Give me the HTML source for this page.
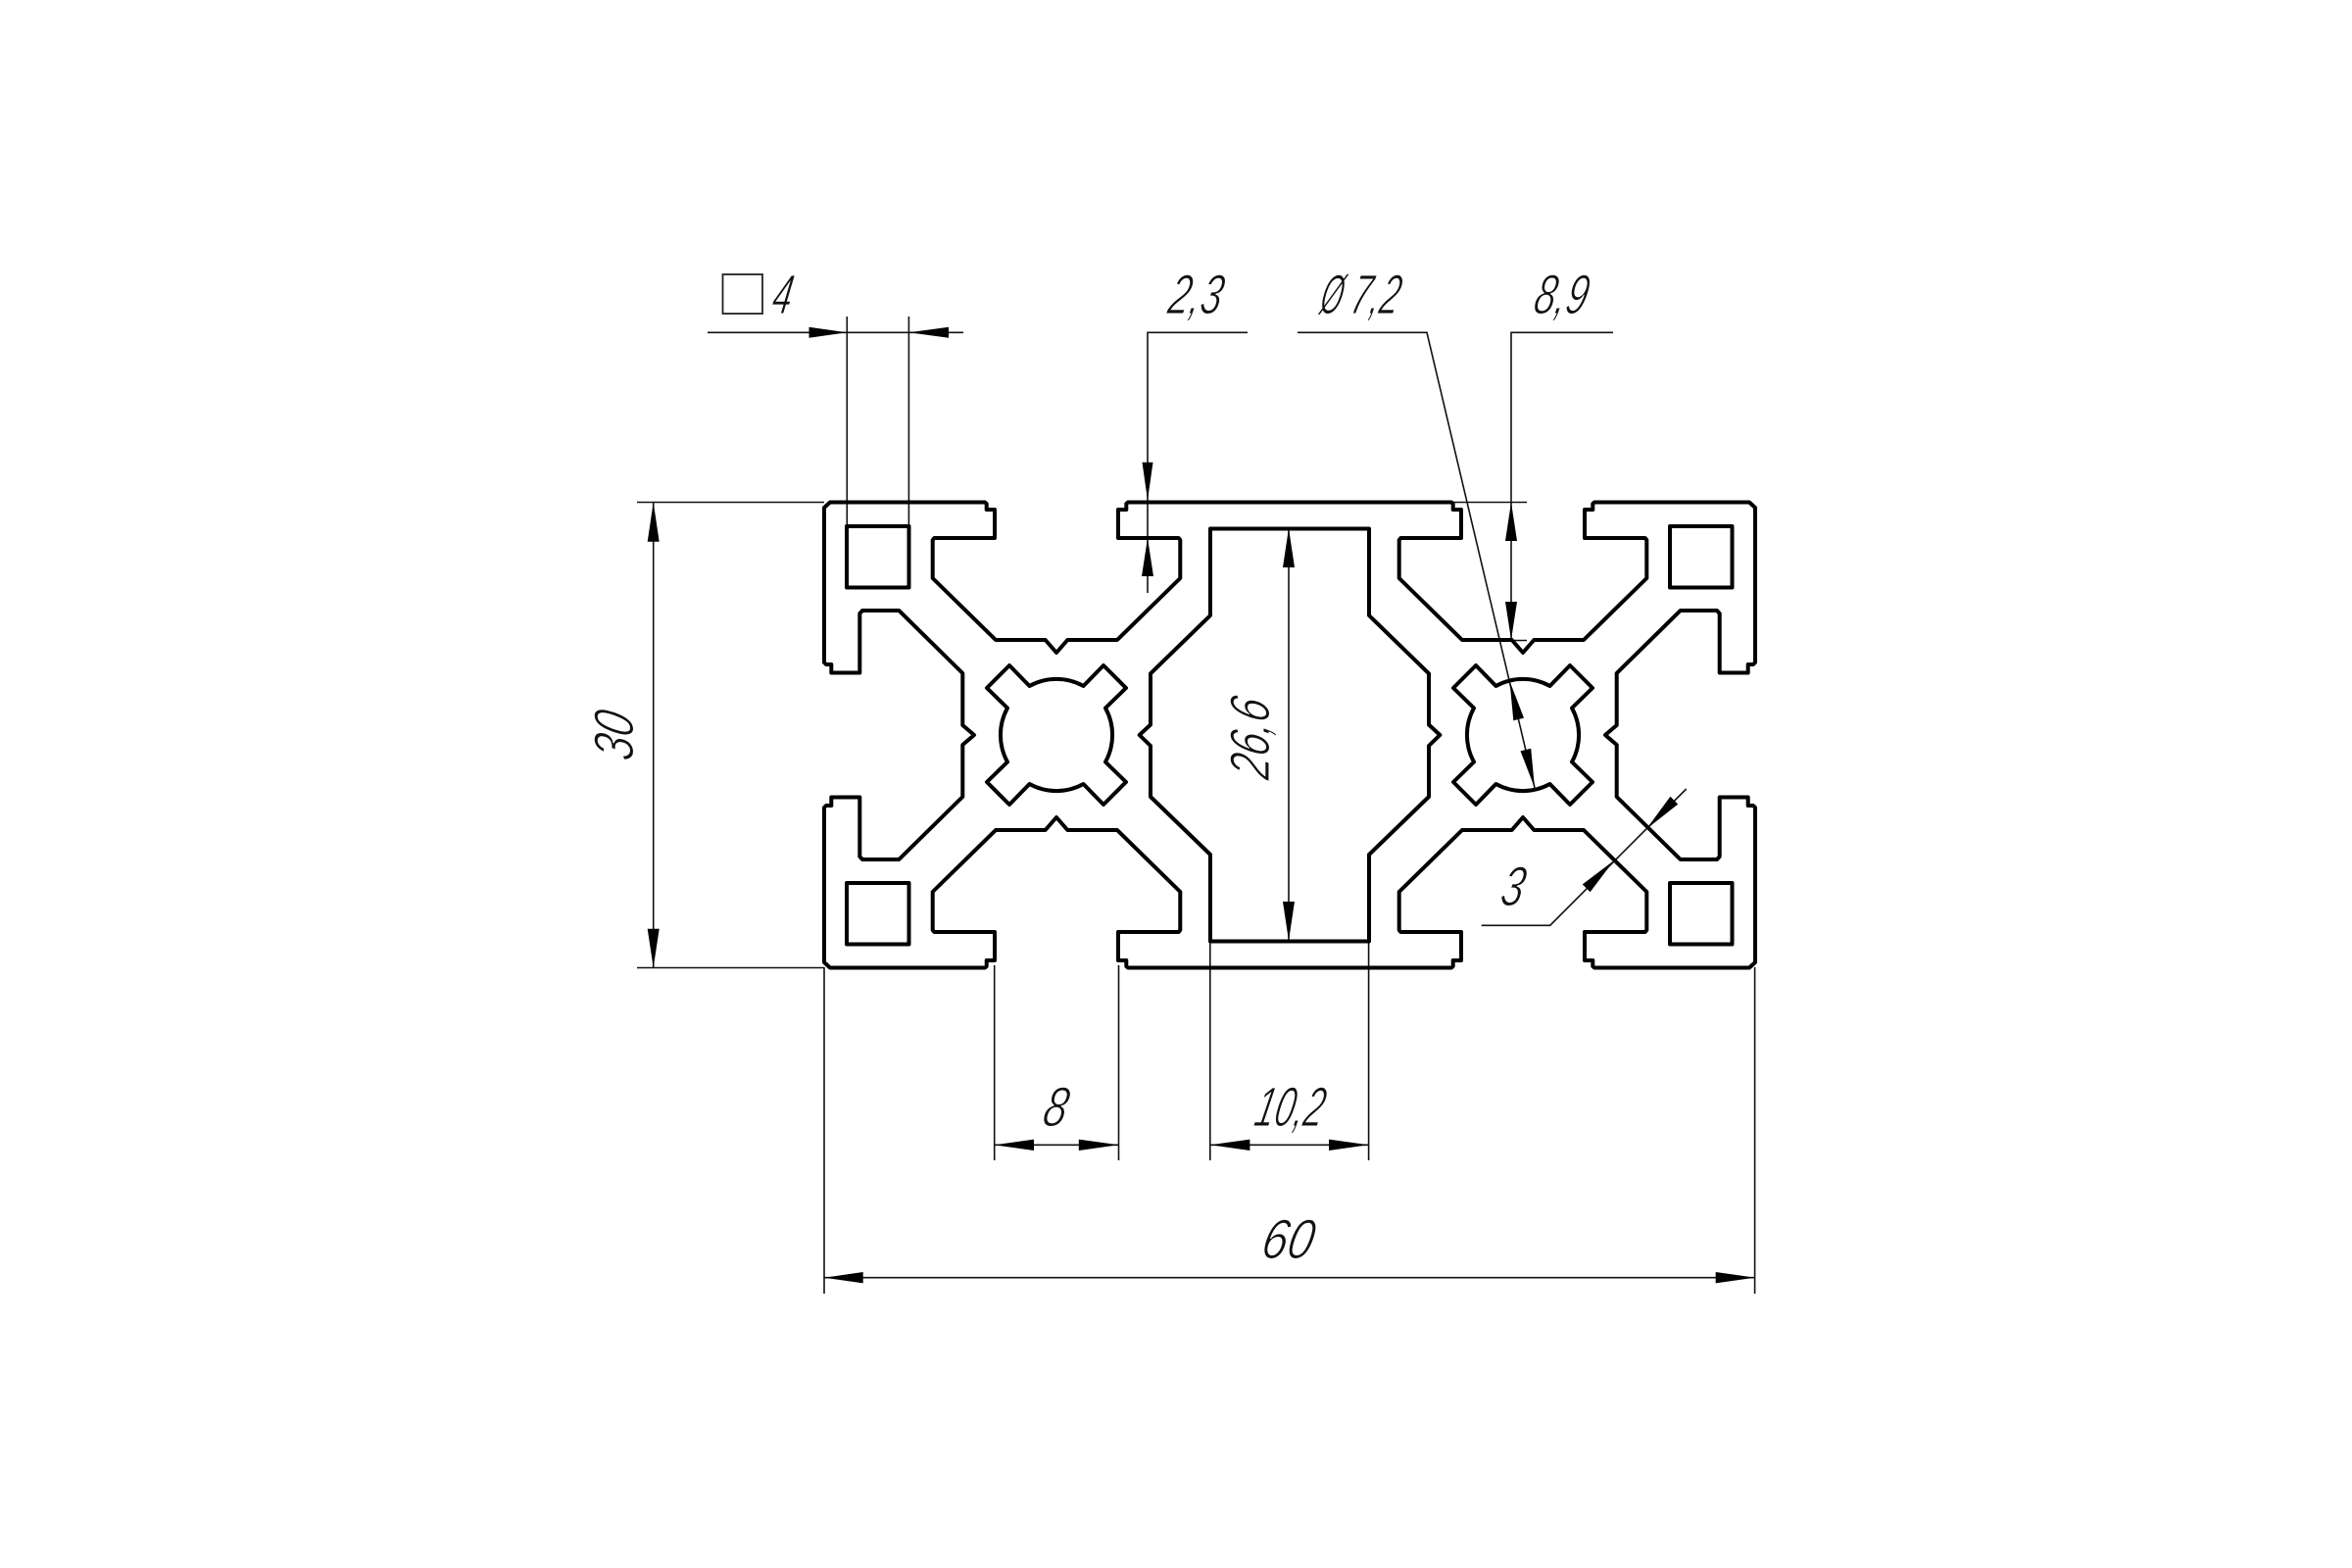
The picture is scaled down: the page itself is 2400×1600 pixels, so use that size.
<!DOCTYPE html>
<html><head><meta charset="utf-8"><style>
html,body{margin:0;padding:0;background:#fff;width:2400px;height:1600px;overflow:hidden}
svg{display:block}
.t{font-family:"Liberation Sans",sans-serif;font-style:italic;font-size:57px;fill:#111;stroke:#fff;stroke-width:1.1px}
.d{stroke:#111;stroke-width:1.6;fill:none}
.a{fill:#000;stroke:none}
.p{stroke:#000;stroke-width:4;fill:none;stroke-linejoin:round}
</style></head><body>
<svg width="2400" height="1600" viewBox="0 0 2400 1600" xmlns="http://www.w3.org/2000/svg">
<rect width="2400" height="1600" fill="#fff"/>
<!-- text -->
<text class="t" transform="translate(786,320) skewX(-10) scale(.62,1)">4</text>
<text class="t" transform="translate(1190,320) skewX(-12) scale(.68,1)">2,3</text>
<text class="t" transform="translate(1345,320) skewX(-12) scale(.5,1)">Ø</text>
<text class="t" transform="translate(1376,320) skewX(-12) scale(.62,1)">7,2</text>
<text class="t" transform="translate(1563,320) skewX(-12) scale(.68,1)">8,9</text>
<text class="t" transform="translate(1062,1149) skewX(-12) scale(.75,1)">8</text>
<text class="t" transform="translate(1278,1149) skewX(-12) scale(.63,1)">10,2</text>
<text class="t" transform="translate(1285,1284) skewX(-12) scale(.82,1)">60</text>
<text class="t" transform="translate(1529,924) skewX(-12) scale(.72,1)">3</text>
<text class="t" transform="translate(646,778) rotate(-90) skewX(-12) scale(.76,1)">30</text>
<text class="t" transform="translate(1295,797) rotate(-90) skewX(-12) scale(.73,1)">26,6</text>
<rect x="737.5" y="280" width="40.5" height="40" fill="none" stroke="#222" stroke-width="1.8"/>
<!-- dimension lines -->
<g class="d">
<path d="M722 339.3H983M864.3 323V537M927.4 323V537"/>
<path d="M1273 339.3H1171V605"/>
<path d="M1324 339.3H1456L1566 804"/>
<path d="M1646 339.3H1542V653"/>
<path d="M1481 512.5H1558M1541 653.5H1558"/>
<path d="M1315 539V960"/>
<path d="M650 512.5H841M650 987.5H841M666.7 512.5V987.5"/>
<path d="M1014.7 985V1184M1141.5 985V1184M1234.8 960V1184M1396.6 960V1184M841 987V1320M1790.6 987V1320"/>
<path d="M1015 1168.3H1141.5M1234.8 1168.3H1396.6M841 1303.7H1790.6"/>
<path d="M1511.7 944.3H1581.7L1720.7 805"/>
</g>
<!-- arrowheads -->
<g class="a">
<polygon points="864.3,339.3 825.5,333.8 825.5,344.8"/>
<polygon points="927.4,339.3 968,333.8 968,344.8"/>
<polygon points="1171,510.5 1165.5,471.7 1176.5,471.7"/>
<polygon points="1171,549 1165,588 1177,588"/>
<polygon points="1542,512.5 1536,552 1548,552"/>
<polygon points="1542,653 1536,614 1548,614"/>
<polygon points="1315,539 1309,579 1321,579"/>
<polygon points="1315,960 1309,920 1321,920"/>
<polygon points="666.7,512.5 660.7,552.7 672.7,552.7"/>
<polygon points="666.7,987.5 660.7,947.7 672.7,947.7"/>
<polygon points="1015,1168.3 1055,1162.6 1055,1174"/>
<polygon points="1141.5,1168.3 1100.8,1162.6 1100.8,1174"/>
<polygon points="1234.8,1168.3 1275.4,1162.6 1275.4,1174"/>
<polygon points="1396.6,1168.3 1356,1162.6 1356,1174"/>
<polygon points="841,1303.7 880.7,1298 880.7,1309.4"/>
<polygon points="1790.6,1303.7 1750.7,1298 1750.7,1309.4"/>
<polygon points="1540.5,695 1555,732.6 1544.3,735.2"/>
<polygon points="1566,804 1562.2,763.8 1551.5,766.4"/>
<polygon points="1647,878 1622.6,910.2 1614.8,902.4"/>
<polygon points="1680,846 1712.2,820.6 1704.4,812.8"/>
</g>
<!-- profile -->
<path class="p" d="M994 750L982.3 740V687L917.3 623H880L877.3 626V686.5H848.3V678H843L841 676V518L847 512.5H1005L1006.7 514V520H1015V549H953.3L951.7 551V590L1016 653H1066.7L1078 666L1089.3 653H1140L1204.3 590V551L1202.7 549H1141V520H1149.3V514L1151 512.5H1481L1482.7 514V520H1491V549H1429.3L1427.7 551V590L1492 653H1542.7L1554 666L1565.3 653H1616L1680.3 590V551L1678.7 549H1617V520H1625.3V514L1627 512.5H1785L1791 518V676L1789 678H1783.7V686.5H1754.7V626L1752 623H1714.7L1649.7 687V740L1638 750L1649.7 760V813L1714.7 877H1752L1754.7 874V813.5H1783.7V822H1789L1791 824V982L1785 987.5H1627L1625.3 986V980H1617V951H1678.7L1680.3 949V910L1616 847H1565.3L1554 834L1542.7 847H1492L1427.7 910V949L1429.3 951H1491V980H1482.7V986L1481 987.5H1151L1149.3 986V980H1141V951H1202.7L1204.3 949V910L1140 847H1089.3L1078 834L1066.7 847H1016L951.7 910V949L953.3 951H1015V980H1006.7V986L1005 987.5H847L841 982V824L843 822H848.3V813.5H877.3V874L880 877H917.3L982.3 813V760Z"/>
<path class="p" d="M1235 539.5H1397V628L1458 687.3V739.5L1469.3 750L1458 761V813L1397 872V960.5H1235V872L1174 813V761L1162.7 750L1174 739.5V687.3L1235 628Z"/>
<g class="p">
<rect x="864" y="537" width="63.5" height="62.5"/>
<rect x="864" y="901" width="63.5" height="62.5"/>
<rect x="1704" y="537" width="63.5" height="62.5"/>
<rect x="1704" y="901" width="63.5" height="62.5"/>
</g>
<path class="p" transform="translate(1078,750)" d="M-48-71L-27.5-50A57 57 0 0 1 27.5-50L48-71L71-48L50-27.5A57 57 0 0 1 50 27.5L71 48L48 71L27.5 50A57 57 0 0 1-27.5 50L-48 71L-71 48L-50 27.5A57 57 0 0 1-50-27.5L-71-48Z"/>
<path class="p" transform="translate(1554,750)" d="M-48-71L-27.5-50A57 57 0 0 1 27.5-50L48-71L71-48L50-27.5A57 57 0 0 1 50 27.5L71 48L48 71L27.5 50A57 57 0 0 1-27.5 50L-48 71L-71 48L-50 27.5A57 57 0 0 1-50-27.5L-71-48Z"/>
</svg>
</body></html>
